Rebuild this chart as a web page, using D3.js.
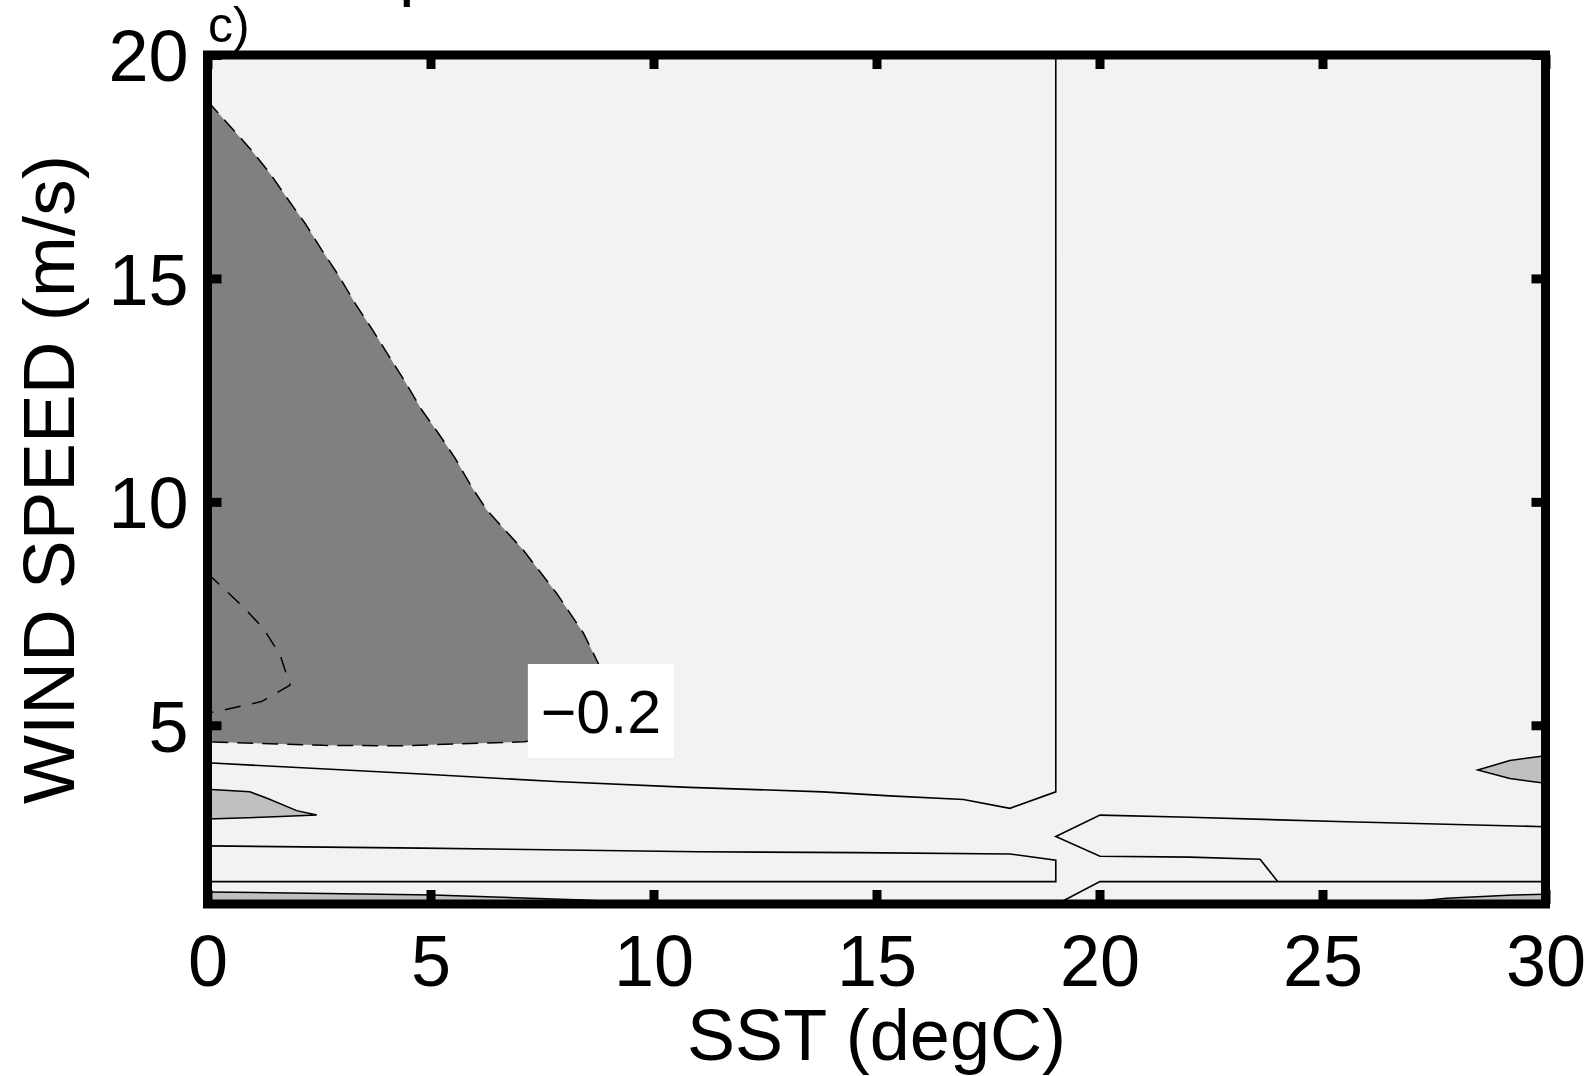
<!DOCTYPE html>
<html>
<head>
<meta charset="utf-8">
<script src="https://cdn.jsdelivr.net/npm/d3@7"></script>
<style>
  body { margin: 0; background: #fff; }
  text { font-family: "Liberation Sans", Arial, sans-serif; }
</style>
</head>
<body>
<div id="chart"></div>
<script>
// axis ticks
const xTicks = [0, 5, 10, 15, 20, 25, 30];
const yTicks = [5, 10, 15, 20];

// contours, points are [SST, wind speed]
// -0.2 region (dashed edge), runs from top of left edge round to bottom of left edge
const darkRegion = [[0, 18.97], [0.95, 17.91], [1.4, 17.35], [1.81, 16.76], [2.19, 16.23], [2.56, 15.64],
  [2.93, 15.08], [3.31, 14.44], [3.68, 13.88], [4.05, 13.29], [4.43, 12.69], [4.8, 12.06], [5.18, 11.53],
  [5.55, 10.98], [5.92, 10.34], [6.26, 9.82], [7.08, 8.92], [7.83, 7.95], [8.43, 7.06], [8.76, 6.39],
  [9.0, 5.6], [8.6, 4.85], [7.1, 4.63], [4.3, 4.54], [2.6, 4.55], [0, 4.63]];
// inner dashed contour
const innerDashed = [[0, 8.4], [0.8, 7.65], [1.25, 7.17], [1.63, 6.57], [1.85, 5.9], [1.21, 5.53], [0.54, 5.38], [0, 5.27]];
// light grey patches
const leftPatch = [[0, 3.57], [0.95, 3.51], [1.35, 3.36], [2.0, 3.09], [2.45, 2.99], [1.5, 2.95], [0, 2.9]];
const rightPatch = [[30, 4.32], [29.2, 4.21], [28.48, 4.0], [29.2, 3.81], [30, 3.7]];
const bottomLeftEdge = [[0, 1.27], [5.06, 1.2], [8.43, 1.09], [10.2, 1.0]];
const bottomRightEdge = [[26.5, 1.0], [27.78, 1.13], [29.28, 1.2], [30, 1.22]];
// solid contour lines
const lineA = [[0, 4.16], [4.8, 3.91], [7.8, 3.74], [10.8, 3.61], [13.8, 3.51], [15.3, 3.42], [16.95, 3.34],
  [17.99, 3.14], [19.02, 3.51], [19.02, 20]];
const lineB = [[0, 2.3], [4.8, 2.25], [11, 2.17], [14.56, 2.15], [17.99, 2.12], [19.02, 1.98], [19.02, 1.5], [0, 1.5]];
const lineR1 = [[30, 2.73], [25.54, 2.84], [22.03, 2.94], [20.01, 2.99], [19.02, 2.51], [20.01, 2.07],
  [22.03, 2.05], [23.6, 2.0], [23.99, 1.51]];
const lineR2 = [[19.05, 1.0], [20.01, 1.5], [30, 1.5]];

const labelPos = [8.82, 5.32];
const labelText = "\u22120.2";

// size
const W = 1593, H = 1076;
const margin = { left: 207.5, top: 55, right: 47.5, bottom: 172 };
const width = W - margin.left - margin.right;
const height = H - margin.top - margin.bottom;

const svgRoot = d3.select("#chart").append("svg")
  .attr("width", W)
  .attr("height", H);

const svg = svgRoot.append("g")
  .attr("transform", `translate(${margin.left},${margin.top})`);

const x = d3.scaleLinear().domain([0, 30]).range([0, width]);
const y = d3.scaleLinear().domain([1, 20]).range([height, 0]);
const line = d3.line().x(d => x(d[0])).y(d => y(d[1]));

svg.append("clipPath").attr("id", "plotclip")
  .append("rect").attr("width", width).attr("height", height);

const plot = svg.append("g").attr("clip-path", "url(#plotclip)");

plot.append("rect")
  .attr("width", width)
  .attr("height", height)
  .attr("fill", "#f2f2f2");

// dark -0.2 region
plot.append("path")
  .attr("d", line(darkRegion) + "Z")
  .attr("fill", "#808080");
plot.append("path")
  .attr("d", line(darkRegion))
  .attr("fill", "none")
  .attr("stroke", "#000")
  .attr("stroke-width", 1.5)
  .attr("stroke-dasharray", "16,9");
plot.append("path")
  .attr("d", line(innerDashed))
  .attr("fill", "none")
  .attr("stroke", "#000")
  .attr("stroke-width", 1.5)
  .attr("stroke-dasharray", "16,12");

// light patches
const ymin = y.domain()[0] - 0.2;
[leftPatch, rightPatch].forEach(p => {
  plot.append("path")
    .attr("d", line(p))
    .attr("fill", "#c0c0c0")
    .attr("stroke", "#000")
    .attr("stroke-width", 1.5);
});
[bottomLeftEdge, bottomRightEdge].forEach(p => {
  const first = p[0], last = p[p.length - 1];
  const poly = p.concat([[last[0], ymin], [first[0], ymin]]);
  plot.append("path")
    .attr("d", line(poly) + "Z")
    .attr("fill", "#c0c0c0");
  plot.append("path")
    .attr("d", line(p))
    .attr("fill", "none")
    .attr("stroke", "#000")
    .attr("stroke-width", 1.5);
});

// solid lines
[lineA, lineB, lineR1, lineR2].forEach(p => {
  plot.append("path")
    .attr("d", line(p))
    .attr("fill", "none")
    .attr("stroke", "#000")
    .attr("stroke-width", 1.6);
});

// label
const lx = x(labelPos[0]), ly = y(labelPos[1]);
svg.append("rect")
  .attr("x", lx - 73)
  .attr("y", ly - 47)
  .attr("width", 146)
  .attr("height", 94)
  .attr("fill", "#fff");
svg.append("text")
  .attr("x", lx)
  .attr("y", ly + 22)
  .attr("text-anchor", "middle")
  .style("font-size", "61px")
  .attr("fill", "#000")
  .text(labelText);

// ticks on all four sides
function styleTicks(g) {
  g.select(".domain").remove();
  g.selectAll(".tick line").attr("stroke", "#000").attr("stroke-width", 9);
}
svg.append("g")
  .attr("transform", `translate(0,${height})`)
  .call(d3.axisBottom(x).tickValues(xTicks).tickSize(-14).tickPadding(0).tickFormat(d3.format("d")))
  .call(styleTicks)
  .call(g => g.selectAll("text")
    .attr("y", 82).attr("dy", 0)
    .attr("fill", "#000")
    .style("font-size", "72px")
    .style("font-family", "'Liberation Sans', Arial, sans-serif"));
svg.append("g")
  .call(d3.axisTop(x).tickValues(xTicks).tickSize(-14).tickFormat(""))
  .call(styleTicks);
svg.append("g")
  .call(d3.axisLeft(y).tickValues(yTicks).tickSize(-14).tickPadding(0).tickFormat(d3.format("d")))
  .call(styleTicks)
  .call(g => g.selectAll("text")
    .attr("x", -19).attr("dy", "0.36em")
    .attr("fill", "#000")
    .style("font-size", "72px")
    .style("font-family", "'Liberation Sans', Arial, sans-serif"));
svg.append("g")
  .attr("transform", `translate(${width},0)`)
  .call(d3.axisRight(y).tickValues(yTicks).tickSize(-14).tickFormat(""))
  .call(styleTicks);

// frame
svg.append("rect")
  .attr("width", width)
  .attr("height", height)
  .attr("fill", "none")
  .attr("stroke", "#000")
  .attr("stroke-width", 9);

// axis titles
svg.append("text")
  .attr("x", width / 2)
  .attr("y", height + 156)
  .attr("text-anchor", "middle")
  .style("font-size", "72px")
  .text("SST (degC)");

svg.append("text")
  .attr("transform", `translate(${74 - margin.left},${height / 2}) rotate(-90)`)
  .attr("text-anchor", "middle")
  .style("font-size", "73px")
  .text("WIND SPEED (m/s)");

// panel letter
svgRoot.append("text")
  .attr("x", 208)
  .attr("y", 42)
  .style("font-size", "50px")
  .text("c)");

// bit of the title cut off by the top edge
svgRoot.append("text")
  .attr("x", 399)
  .attr("y", -8)
  .style("font-size", "70px")
  .text("p");
</script>
</body>
</html>
